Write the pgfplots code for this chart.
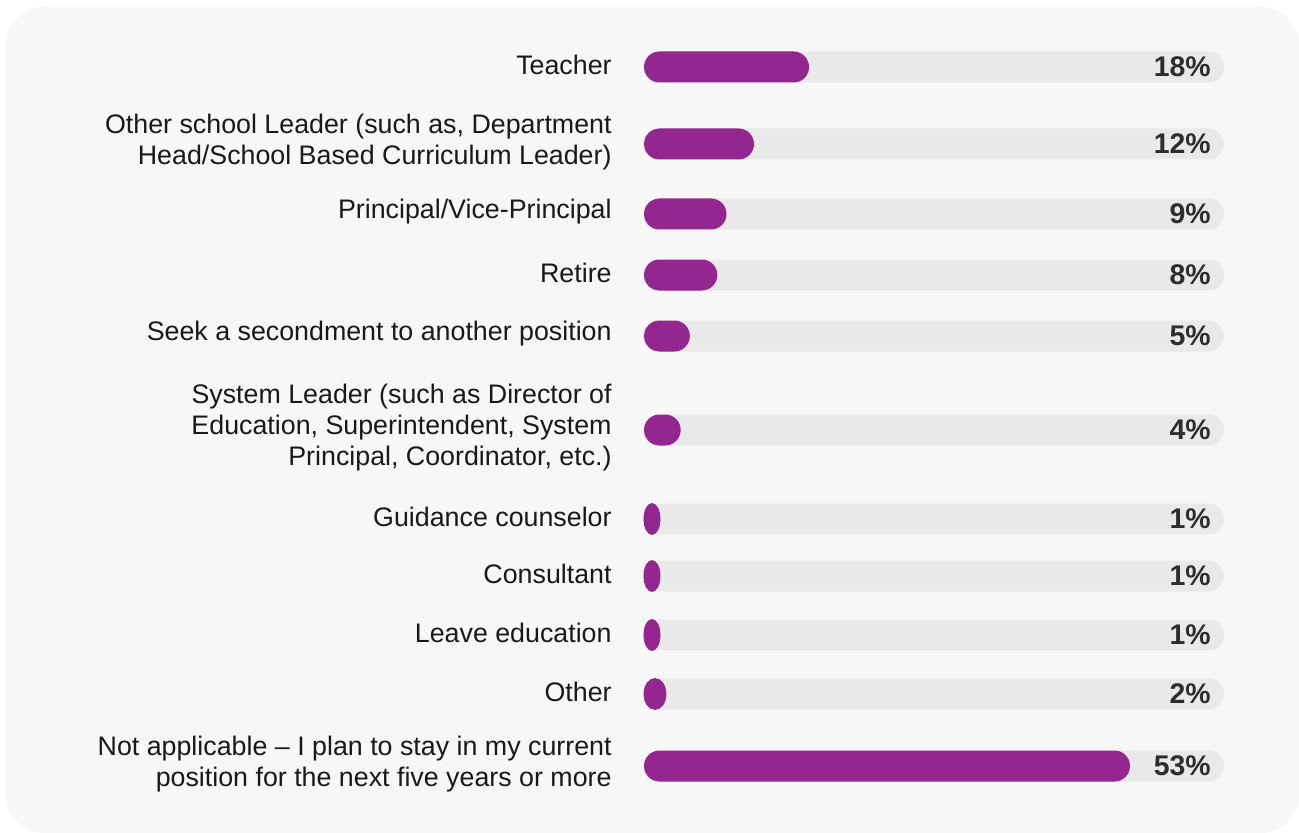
\documentclass[border=0pt]{standalone}
\usepackage{fontspec}
\setmainfont{Liberation Sans}
\usepackage{pgfplots}
\usepackage{pgfplotstable}
\pgfplotsset{compat=1.18}
\definecolor{barpurple}{RGB}{147,39,143}
\definecolor{track}{RGB}{233,233,233}
\definecolor{panel}{RGB}{247,247,247}
\definecolor{labeltext}{RGB}{25,25,25}
\definecolor{valtext}{RGB}{45,45,45}

% all categories: y position (px from top) and value (%)
\pgfplotstableread{
y v
67 18
144 12
214 9
275 8
336 5
430 4
519 1
576 1
635 1
694 2
766 53
}\data
% bars long enough for fully rounded ends
\pgfplotstableread{
y v
67 18
144 12
214 9
275 8
336 5
430 4
766 53
}\dataLong
\pgfplotstableread{
y v
519 1
576 1
635 1
}\dataOne
\pgfplotstableread{
y v
694 2
}\dataTwo

\begin{document}
\begin{tikzpicture}
\useasboundingbox (0,0) rectangle (649.5bp,416.5bp);
\fill[panel, rounded corners=19bp] (3bp,0bp) rectangle (649.5bp,413bp);
\begin{axis}[
  at={(322bp,0bp)}, anchor=south west,
  scale only axis, width=290bp, height=416.5bp,
  xmin=0, xmax=63.25, ymin=0, ymax=833, y dir=reverse,
  axis line style={draw=none},
  xtick=\empty,
  ytick={67,144,214,275,336,430,519,576,635,694,766},
  yticklabels={Teacher,
    {Other school Leader (such as, Department\\Head/School Based Curriculum Leader)},
    Principal/Vice-Principal,
    Retire,
    Seek a secondment to another position,
    {System Leader (such as Director of\\Education, Superintendent, System\\Principal, Coordinator, etc.)},
    Guidance counselor,
    Consultant,
    Leave education,
    Other,
    {Not applicable -- I plan to stay in my current\\position for the next five years or more}},
  major tick length=0pt,
  yticklabel style={anchor=east, align=right, xshift=-16bp, yshift=1bp, inner sep=0pt,
    font=\fontsize{13.4bp}{15.5bp}\selectfont, text=labeltext},
  clip=false,
]
\addplot[xbar, bar width=15.5bp, bar shift=0pt,
  fill=track, draw=none, rounded corners=7.75bp,
  point meta=explicit,
  nodes near coords={\pgfmathprintnumber[assume math mode=true]{\pgfplotspointmeta}\%},
  every node near coord/.append style={anchor=east, xshift=-6.5bp, inner sep=0pt,
    font=\bfseries\fontsize{14.2bp}{16bp}\selectfont, text=valtext}]
  table[x expr=63.25, y=y, meta=v] {\data};
\addplot[xbar, bar width=15.5bp, bar shift=0pt,
  fill=barpurple, draw=none, rounded corners=7.75bp]
  table[x=v, y=y] {\dataLong};
\addplot[only marks, mark=*, mark size=7.75bp, color=barpurple,
  mark options={xscale=0.52, draw=none, fill=barpurple}]
  table[x expr=0.87*\thisrow{v}, y=y] {\dataOne};
\addplot[only marks, mark=*, mark size=7.75bp, color=barpurple,
  mark options={xscale=0.71, draw=none, fill=barpurple}]
  table[x expr=0.6*\thisrow{v}, y=y] {\dataTwo};
\end{axis}
\end{tikzpicture}
\end{document}
